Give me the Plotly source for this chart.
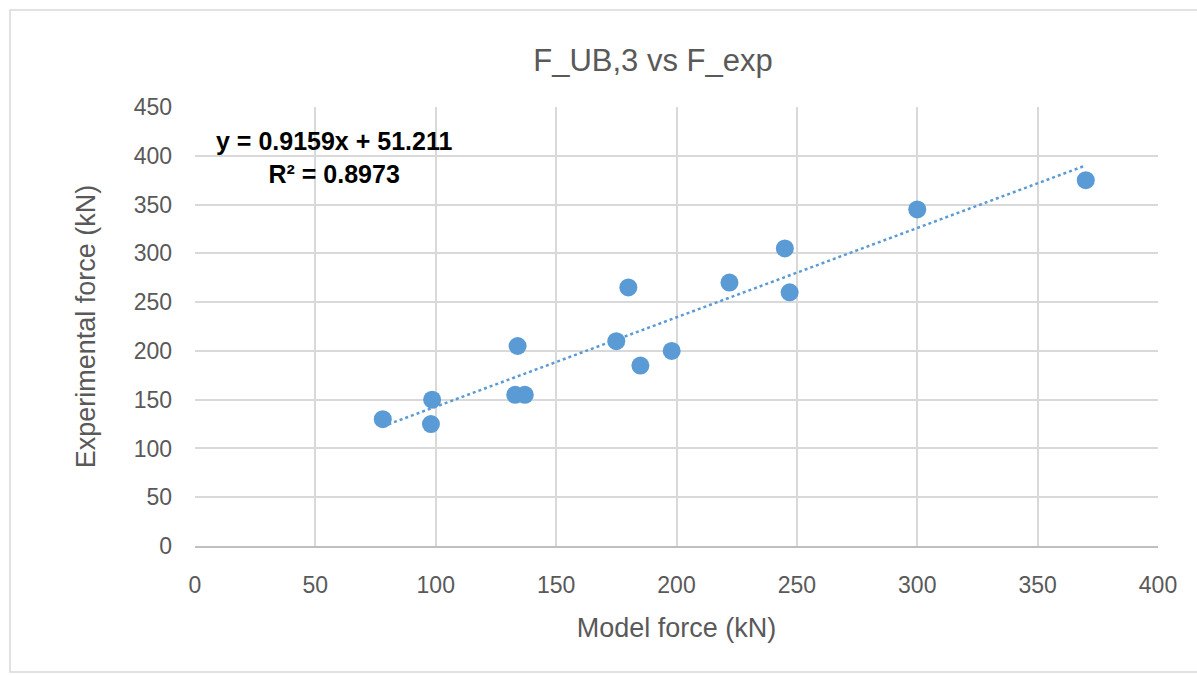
import plotly.graph_objects as go

model_force = [78, 98.5, 98, 133, 137, 134, 175, 180, 185, 198, 222, 245, 247, 300, 370]
exp_force = [130, 150, 125, 155, 155, 205, 210, 265, 185, 200, 270, 305, 260, 345, 375]
slope = 0.9159
intercept = 51.211
r2 = 0.8973
x_ticks = [0, 50, 100, 150, 200, 250, 300, 350, 400]
y_ticks = [0, 50, 100, 150, 200, 250, 300, 350, 400, 450]

blue = "#5b9bd5"
font_fam = "Liberation Sans, Arial, sans-serif"

x0, x1 = min(model_force), max(model_force)
trend_x = [x0, x1]
trend_y = [slope * v + intercept for v in trend_x]

fig = go.Figure()
fig.add_trace(go.Scatter(x=trend_x, y=trend_y, mode="lines",
                         line=dict(color=blue, width=2.5, dash="dot"),
                         hoverinfo="skip", showlegend=False))
fig.add_trace(go.Scatter(x=model_force, y=exp_force, mode="markers",
                         marker=dict(color=blue, size=18),
                         showlegend=False))

L, R, T, B = 195, 39, 107, 129
W, H = 1197, 675
pw, ph = W - L - R, H - T - B

def px(xp):
    return (xp - L) / pw

def py(yp):
    return (H - B - yp) / ph

fig.add_shape(type="rect", xref="paper", yref="paper",
              x0=px(10), x1=px(1200), y0=py(672), y1=py(10),
              line=dict(color="#d9d9d9", width=1.5), layer="below")

fig.add_annotation(x=(334 - L) / pw * 400, y=(H - B - 157) / ph * 450,
                   xref="x", yref="y",
                   text="<b>y = 0.9159x + 51.211</b><br><b>R² = 0.8973</b>",
                   showarrow=False, align="center",
                   font=dict(family=font_fam, size=25, color="#000000"))

fig.update_layout(
    width=W, height=H,
    margin=dict(l=L, r=R, t=T, b=B),
    paper_bgcolor="white", plot_bgcolor="white",
    title=dict(text="F_UB,3 vs F_exp", x=653 / W, xanchor="center",
               y=1 - 60 / H, yanchor="middle",
               font=dict(family=font_fam, size=31, color="#595959")),
    font=dict(family=font_fam, color="#595959"),
    xaxis=dict(range=[0, 400], tickvals=x_ticks, showgrid=True,
               gridcolor="#d9d9d9", gridwidth=1.8, zeroline=False,
               showline=True, linecolor="#bfbfbf", linewidth=1.5,
               ticks="", ticklen=0, ticklabelstandoff=18,
               tickfont=dict(size=23, color="#595959"),
               title=dict(text="Model force (kN)", standoff=21,
                          font=dict(size=27, color="#595959"))),
    yaxis=dict(range=[0, 450], tickvals=y_ticks, showgrid=True,
               gridcolor="#d9d9d9", gridwidth=1.8, zeroline=False,
               showline=False, ticks="", ticklabelstandoff=22,
               tickfont=dict(size=23, color="#595959"),
               title=dict(text="Experimental force (kN)", standoff=30,
                          font=dict(size=27, color="#595959"))),
)

fig.write_html("out.html")
